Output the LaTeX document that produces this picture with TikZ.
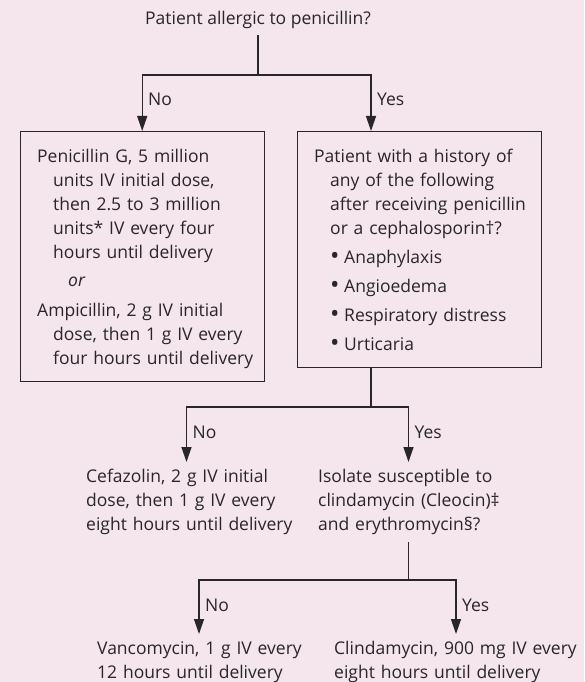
\documentclass[tikz,border=0pt]{standalone}
\usepackage{fontspec}
\setmainfont{Open Sans}
\usepackage{xcolor}
\usetikzlibrary{arrows.meta, positioning}

\definecolor{bgpink}{RGB}{245,229,237}
\definecolor{ink}{RGB}{40,38,40}
\setlength{\parindent}{0pt}
\newcommand{\subline}{\hspace*{16pt}}
\newcommand{\bull}{\makebox[14pt][l]{\raisebox{-1.5pt}{\fontsize{25}{24}\selectfont •}}}

\begin{document}
\begin{tikzpicture}[x=1pt, y=-1pt, >={Triangle[length=15pt, width=10pt]}]

		% Define block styles
		\tikzstyle{box} = [rectangle, draw=ink, line width=1.4pt, anchor=north west]
		\tikzstyle{txt} = [font=\fontsize{17.5}{24}\selectfont, text=ink, inner sep=0pt, text width=260pt, align=left, anchor=base west]
		\tikzstyle{lbl} = [font=\fontsize{17.5}{24}\selectfont, text=ink, inner sep=0pt, anchor=base west]
		\tikzstyle{link} = [draw=ink, line width=1.3pt]

		\useasboundingbox (0,0) rectangle (584,682);
		\fill[bgpink] (0,0) rectangle (584,682);

		% Nodes
		\node[lbl, anchor=base, inner ysep=6pt] (title) at (258,25) {Patient allergic to penicillin?};
		\coordinate (split1) at (258,75);

		\node[box, minimum width=244pt, minimum height=250pt] (nobox) at (19.5,131) {};
		\node[txt] (penicillin) at (37,162) {Penicillin G, 5 million\\
			\subline units IV initial dose,\\
			\subline then 2.5 to 3 million\\
			\subline units* IV every four\\
			\subline hours until delivery\\[4pt]
			\hspace*{31pt}\textit{or}\\[6pt]
			Ampicillin, 2 g IV initial\\
			\subline dose, then 1 g IV every\\
			\subline four hours until delivery};

		\node[box, minimum width=244pt, minimum height=236pt] (yesbox) at (297,131) {};
		\node[txt] (history) at (314,162) {Patient with a history of\\
			\subline any of the following\\
			\subline after receiving penicillin\\
			\subline or a cephalosporin†?\\[5pt]
			\subline\bull Anaphylaxis\\[5pt]
			\subline\bull Angioedema\\[5pt]
			\subline\bull Respiratory distress\\[5pt]
			\subline\bull Urticaria};
		\coordinate (yesend1) at (371,131);
		\coordinate (split2) at (371,407);

		\coordinate (noend2) at (186.5,462);
		\coordinate (yesend2) at (408.5,462);
		\node[txt] (cefazolin) at (86,482) {Cefazolin, 2 g IV initial\\
			dose, then 1 g IV every\\
			eight hours until delivery};
		\node[txt, inner ysep=8pt] (isolate) at (318,482) {Isolate susceptible to\\
			clindamycin (Cleocin)‡\\
			and erythromycin§?};
		\coordinate (split3) at (408.5,580);

		\coordinate (noend3) at (199,634);
		\coordinate (yesend3) at (456,634);
		\node[txt] (vancomycin) at (97,654) {Vancomycin, 1 g IV every\\
			12 hours until delivery};
		\node[txt] (clindamycin) at (334,654) {Clindamycin, 900 mg IV every\\
			eight hours until delivery};

		% Arrows
		\draw[link] (title.south) -- (split1);
		\draw[link, ->] (split1) -| (nobox.north);
		\draw[link, ->] (split1) -| (yesend1);

		\draw[link] (yesbox.south -| split2) -- (split2);
		\draw[link, ->] (split2) -| (noend2);
		\draw[link, ->] (split2) -| (yesend2);

		\draw[link] (isolate.south -| split3) -- (split3);
		\draw[link, ->] (split3) -| (noend3);
		\draw[link, ->] (split3) -| (yesend3);

		% Labels
		\node[lbl] (no1) at (148,106) {No};
		\node[lbl] (yes1) at (377,106) {Yes};
		\node[lbl] (no2) at (192.5,438) {No};
		\node[lbl] (yes2) at (414.5,438) {Yes};
		\node[lbl] (no3) at (205,611) {No};
		\node[lbl] (yes3) at (462,611) {Yes};

	\end{tikzpicture}
\end{document}
